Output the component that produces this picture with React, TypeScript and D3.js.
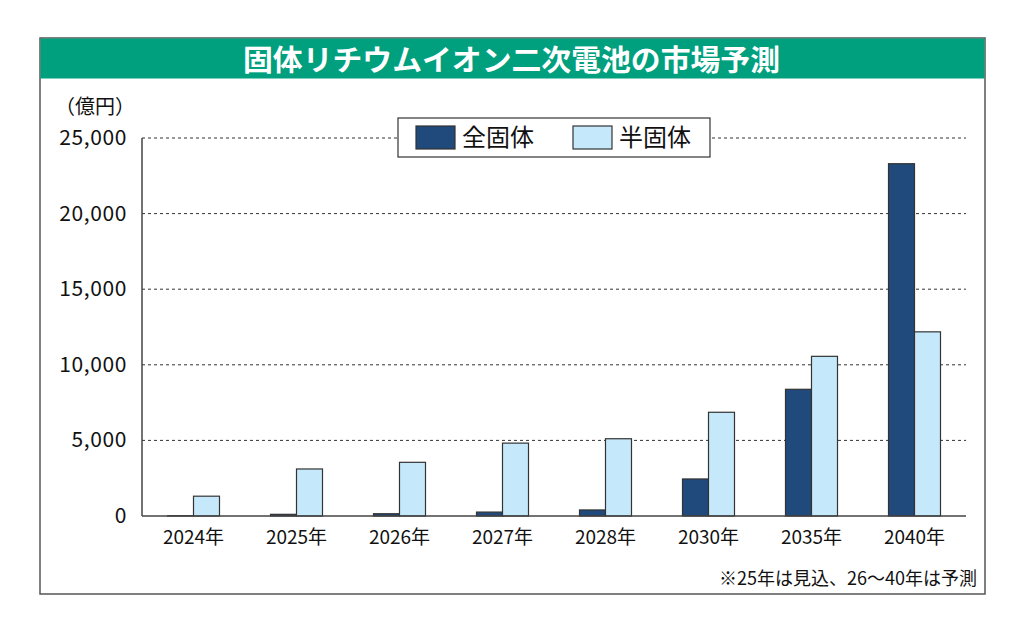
import React from 'react';
import * as d3 from 'd3';

// data (unit: 億円)
const categories = ['2024年', '2025年', '2026年', '2027年', '2028年', '2030年', '2035年', '2040年'];
const allSolid = [20, 110, 150, 260, 400, 2450, 8380, 23300];
const semiSolid = [1310, 3110, 3550, 4820, 5110, 6860, 10560, 12180];
const yTicks = [0, 5000, 10000, 15000, 20000, 25000];
const seriesNames = ['全固体', '半固体'];

const title = '固体リチウムイオン二次電池の市場予測';
const unitLabel = '（億円）';
const footnote = '※25年は見込、26〜40年は予測';

const W = 1024;
const H = 634;
const margin = { top: 138, right: 58, bottom: 118, left: 142 };
const colors = ['#214a7c', '#c6e8fb'];
const font = '"Noto Sans CJK JP", "Noto Sans", sans-serif';

const App = () => {
  const x = d3.scaleBand()
    .domain(categories)
    .range([margin.left, W - margin.right])
    .padding(0);
  const y = d3.scaleLinear()
    .domain([0, 25000])
    .range([H - margin.bottom, margin.top]);

  const barW = 26;
  const fmt = d3.format(',');
  const x0 = margin.left;
  const x1 = W - margin.right;
  const yBase = y(0);

  return (
    <div style={{ position: 'fixed', left: 0, top: 0 }}>
      <svg width={W} height={H} style={{ display: 'block', background: '#fff' }} fontFamily={font}>
        {/* frame + title band */}
        <rect x={40} y={38} width={945} height={556} fill="#fff" stroke="#555" strokeWidth={1.5} />
        <rect x={40.5} y={38.5} width={944} height={40} fill="#00a07f" />
        <text x={243} y={71} fontSize={29} fontWeight={700} fill="#fff"
          textLength={537} lengthAdjust="spacingAndGlyphs">
          {title}
        </text>

        {/* gridlines */}
        {yTicks.filter(t => t > 0).map(t => (
          <line key={t} x1={x0} x2={x1} y1={y(t)} y2={y(t)}
            stroke="#333" strokeWidth={1} strokeDasharray="3,3" />
        ))}

        {/* y labels */}
        <text x={55} y={114} fontSize={20} fill="#111">{unitLabel}</text>
        {yTicks.map(t => (
          <text key={t} x={127} y={y(t) + 7} textAnchor="end" fontSize={21}
            letterSpacing={0.6} fill="#111">
            {fmt(t)}
          </text>
        ))}

        {/* bars */}
        {categories.map((c, i) => {
          const cx = x(c) + x.bandwidth() / 2;
          return (
            <g key={c}>
              <rect x={cx - barW} y={y(allSolid[i])} width={barW} height={yBase - y(allSolid[i])}
                fill={colors[0]} stroke="#333" strokeWidth={1.2} />
              <rect x={cx} y={y(semiSolid[i])} width={barW} height={yBase - y(semiSolid[i])}
                fill={colors[1]} stroke="#333" strokeWidth={1.2} />
              <text x={cx} y={yBase + 28} textAnchor="middle" fontSize={19} fill="#111">{c}</text>
            </g>
          );
        })}

        {/* axes */}
        <line x1={x0} x2={x0} y1={margin.top} y2={yBase} stroke="#444" strokeWidth={1.5} />
        <line x1={x0} x2={x1} y1={yBase} y2={yBase} stroke="#444" strokeWidth={1.5} />

        {/* legend */}
        <rect x={398} y={118} width={312} height={39} fill="#fff" stroke="#333" strokeWidth={1.2} />
        {seriesNames.map((s, i) => (
          <g key={s} transform={`translate(${416 + i * 157}, 126)`}>
            <rect width={39} height={23} fill={colors[i]} stroke="#333" strokeWidth={1.2} />
            <text x={46} y={20} fontSize={24} fill="#111">{s}</text>
          </g>
        ))}

        {/* footnote */}
        <text x={977} y={585} textAnchor="end" fontSize={18} fill="#111">{footnote}</text>
      </svg>
    </div>
  );
};

export default App;
